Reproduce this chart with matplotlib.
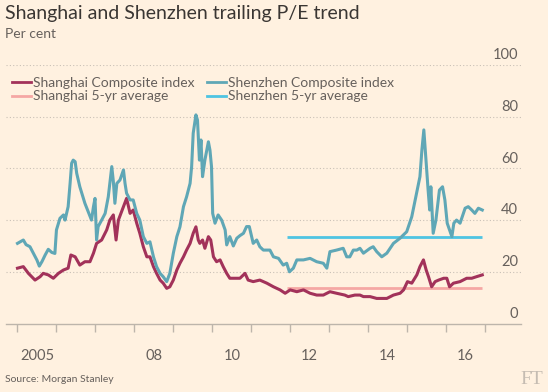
import matplotlib
matplotlib.use('Agg')
import matplotlib.pyplot as plt
from matplotlib.lines import Line2D
from matplotlib.transforms import offset_copy

plt.rcParams['font.family'] = ['Lato', 'DejaVu Sans']

# Shenzhen Composite index, trailing P/E
sz_years = [2005.00, 2005.15, 2005.22, 2005.32, 2005.41, 2005.50, 2005.56, 2005.63, 2005.71, 2005.79,
            2005.88, 2005.96, 2006.00, 2006.09, 2006.18, 2006.22, 2006.30, 2006.35, 2006.39, 2006.43,
            2006.48, 2006.52, 2006.60, 2006.73, 2006.82, 2006.90, 2006.95, 2006.99, 2007.03, 2007.07,
            2007.16, 2007.25, 2007.33, 2007.42, 2007.46, 2007.50, 2007.55, 2007.63, 2007.72, 2007.76,
            2007.80, 2007.89, 2007.97, 2008.06, 2008.14, 2008.23, 2008.32, 2008.40, 2008.49, 2008.57,
            2008.66, 2008.74, 2008.83, 2008.91, 2009.00, 2009.09, 2009.17, 2009.26, 2009.34, 2009.43,
            2009.47, 2009.51, 2009.58, 2009.62, 2009.67, 2009.71, 2009.75, 2009.81, 2009.90, 2009.94,
            2009.98, 2010.01, 2010.07, 2010.15, 2010.24, 2010.33, 2010.37, 2010.45, 2010.54, 2010.63,
            2010.71, 2010.80, 2010.88, 2010.95, 2011.05, 2011.14, 2011.22, 2011.31, 2011.40, 2011.48,
            2011.57, 2011.70, 2011.82, 2011.91, 2011.98, 2012.08, 2012.17, 2012.34, 2012.51, 2012.68,
            2012.85, 2012.94, 2013.02, 2013.19, 2013.36, 2013.45, 2013.53, 2013.62, 2013.71, 2013.79,
            2013.88, 2014.05, 2014.13, 2014.22, 2014.35, 2014.48, 2014.65, 2014.82, 2014.99, 2015.12,
            2015.25, 2015.33, 2015.38, 2015.43, 2015.49, 2015.54, 2015.58, 2015.61, 2015.67, 2015.74,
            2015.83, 2015.91, 2015.97, 2016.03, 2016.09, 2016.15, 2016.20, 2016.27, 2016.36, 2016.49,
            2016.57, 2016.66, 2016.74, 2016.83, 2016.93]
sz_pe = [31.0, 32.3, 30.5, 29.7, 27.1, 24.5, 22.2, 24.0, 26.5, 28.7,
         27.5, 27.1, 36.2, 40.7, 42.0, 40.0, 45.2, 54.2, 62.0, 63.2,
         62.6, 58.1, 52.9, 46.5, 43.0, 40.0, 45.2, 48.4, 32.3, 37.5,
         40.0, 42.6, 49.0, 60.7, 55.0, 46.5, 54.2, 55.5, 59.4, 54.2,
         50.4, 47.8, 47.8, 42.6, 40.0, 33.6, 31.0, 31.6, 25.8, 22.0,
         19.4, 18.1, 16.2, 19.4, 27.2, 33.6, 37.4, 45.2, 49.0, 54.2,
         60.7, 73.6, 80.7, 78.7, 63.2, 71.0, 56.8, 63.2, 70.3, 67.1,
         60.7, 42.6, 38.8, 42.0, 40.0, 36.2, 30.4, 33.6, 30.0, 33.0,
         34.0, 34.9, 37.5, 37.5, 31.0, 32.3, 29.7, 28.4, 28.4, 28.4,
         25.8, 25.2, 22.6, 23.3, 20.0, 21.4, 24.6, 24.6, 25.2, 23.9,
         23.3, 21.4, 27.8, 28.4, 29.1, 25.8, 25.8, 28.4, 28.4, 29.1,
         27.2, 29.1, 29.7, 27.8, 25.8, 27.2, 31.0, 33.0, 35.5, 41.3,
         51.0, 56.8, 67.1, 74.9, 62.0, 51.6, 43.9, 52.9, 34.9, 40.0,
         51.6, 52.9, 47.8, 38.8, 36.2, 33.6, 38.8, 40.0, 38.8, 44.6,
         45.2, 43.9, 42.6, 44.6, 43.9]

# Shanghai Composite index, trailing P/E
sh_years = [2005.00, 2005.15, 2005.28, 2005.45, 2005.58, 2005.66, 2005.79, 2005.92, 2006.05, 2006.18,
            2006.30, 2006.37, 2006.48, 2006.60, 2006.73, 2006.86, 2006.95, 2007.03, 2007.16, 2007.29,
            2007.37, 2007.46, 2007.53, 2007.59, 2007.72, 2007.80, 2007.89, 2007.97, 2008.06, 2008.14,
            2008.23, 2008.32, 2008.40, 2008.49, 2008.57, 2008.66, 2008.74, 2008.83, 2008.91, 2009.00,
            2009.09, 2009.17, 2009.26, 2009.34, 2009.43, 2009.51, 2009.58, 2009.64, 2009.68, 2009.75,
            2009.81, 2009.90, 2009.96, 2010.03, 2010.11, 2010.20, 2010.28, 2010.37, 2010.45, 2010.58,
            2010.71, 2010.84, 2010.92, 2011.05, 2011.22, 2011.40, 2011.57, 2011.74, 2011.87, 2012.00,
            2012.17, 2012.34, 2012.51, 2012.68, 2012.85, 2013.02, 2013.19, 2013.40, 2013.49, 2013.66,
            2013.79, 2013.88, 2014.05, 2014.22, 2014.48, 2014.65, 2014.82, 2014.91, 2015.01, 2015.12,
            2015.25, 2015.33, 2015.42, 2015.49, 2015.55, 2015.63, 2015.72, 2015.81, 2015.94, 2016.02,
            2016.09, 2016.19, 2016.36, 2016.53, 2016.66, 2016.78, 2016.93]
sh_pe = [21.4, 22.0, 19.4, 16.8, 18.1, 19.4, 18.8, 17.5, 19.4, 20.7,
         21.4, 26.5, 25.8, 22.6, 23.9, 23.9, 27.2, 31.0, 32.3, 36.2,
         40.0, 42.0, 32.3, 40.0, 45.2, 48.4, 42.6, 43.9, 38.8, 34.9,
         29.7, 25.8, 25.8, 22.0, 19.4, 16.8, 15.6, 13.6, 14.2, 16.8,
         20.7, 23.3, 25.8, 28.4, 31.0, 34.9, 37.4, 32.3, 31.0, 32.3,
         29.1, 33.6, 32.3, 25.8, 23.9, 24.6, 22.0, 19.4, 17.5, 17.5,
         17.5, 19.4, 16.8, 16.2, 16.8, 15.6, 14.2, 13.0, 11.7, 13.0,
         12.3, 13.0, 11.7, 11.0, 11.0, 12.3, 11.7, 11.0, 10.4, 11.0,
         11.0, 10.4, 10.4, 9.7, 9.7, 11.0, 11.7, 13.0, 16.2, 15.6,
         18.8, 22.0, 24.6, 20.7, 18.1, 14.2, 16.2, 16.8, 17.5, 17.5,
         14.2, 15.6, 16.2, 17.5, 17.5, 18.1, 18.8]

# 5-year averages
avg_years = [2011.91, 2016.93]
sh_avg = [13.6, 13.6]
sz_avg = [33.6, 33.6]

year_ticks = list(range(2005, 2018))
label_years = [2005, 2008, 2010, 2012, 2014, 2016]
label_text = ['2005', '08', '10', '12', '14', '16']
y_ticks = [0, 20, 40, 60, 80, 100]

bg = '#fff1e0'
c_sh = '#a2325a'
c_sz = '#5fa7b6'
c_sh_avg = '#f5a7a4'
c_sz_avg = '#4ec4e2'
grey = '#66605c'

fig = plt.figure(figsize=(5.48, 3.92), dpi=100, facecolor=bg)
W, H = 548, 392
ax = fig.add_axes([6 / W, (H - 323.5) / H, (521 - 6) / W, (323.5 - 65) / H])
ax.set_facecolor(bg)

ax.plot(avg_years, sh_avg, color=c_sh_avg, lw=2, solid_capstyle='butt')
ax.plot(avg_years, sz_avg, color=c_sz_avg, lw=2, solid_capstyle='butt')
ax.plot(sh_years, sh_pe, color=c_sh, lw=2.2)
ax.plot(sz_years, sz_pe, color=c_sz, lw=2.2)

ax.set_xlim(2004.705, 2017.924)
ax.set_ylim(0, 100)

for s in ['top', 'left', 'right']:
    ax.spines[s].set_visible(False)
ax.spines['bottom'].set_color('#bdb5ab')
ax.spines['bottom'].set_linewidth(1)

# dotted gridlines with the value labels sitting just above them on the right
lift = offset_copy(ax.get_yaxis_transform(), fig=fig, x=-2, y=2, units='points')
for v in y_ticks[1:]:
    ax.axhline(v, color='#c9c0b6', lw=0.8, ls=(0, (1, 2)), zorder=0)
for v in y_ticks:
    ax.text(1.0, v, str(v), transform=lift, ha='right', va='bottom',
            fontsize=10.5, color=grey)
ax.set_yticks([])

ax.set_xticks(year_ticks)
ax.set_xticklabels([])
ax.set_xticks([y + 0.5 for y in label_years], minor=True)
ax.set_xticklabels(label_text, minor=True)
ax.tick_params(axis='x', which='major', length=6, color='#bdb5ab', width=1)
ax.tick_params(axis='x', which='minor', length=0, pad=18, labelsize=10.5, labelcolor=grey)

fig.text(5 / W, 1 - 14 / H, 'Shanghai and Shenzhen trailing P/E trend', fontsize=14,
         color='#3a3633', va='center', ha='left')
fig.text(5 / W, 1 - 34 / H, 'Per cent', fontsize=10, color=grey, va='center', ha='left')
fig.text(5 / W, 1 - 379 / H, 'Source: Morgan Stanley', fontsize=7.5, color=grey,
         va='center', ha='left')
fig.text(543 / W, 1 - 379 / H, 'FT', fontsize=14, color='#c5bcb2', va='center', ha='right',
         family='Liberation Serif')

handles = [Line2D([], [], color=c_sh, lw=2), Line2D([], [], color=c_sh_avg, lw=2),
           Line2D([], [], color=c_sz, lw=2), Line2D([], [], color=c_sz_avg, lw=2)]
labels = ['Shanghai Composite index', 'Shanghai 5-yr average',
          'Shenzhen Composite index', 'Shenzhen 5-yr average']
fig.legend(handles, labels, ncol=2, loc='upper left', bbox_to_anchor=(12 / W, 1 - 77 / H),
           frameon=False, fontsize=10, labelcolor=grey, handlelength=1.35, handletextpad=0.15,
           columnspacing=0.9, labelspacing=0.1, borderpad=0, borderaxespad=0)

fig.savefig('out.png', dpi=100, facecolor=bg)
